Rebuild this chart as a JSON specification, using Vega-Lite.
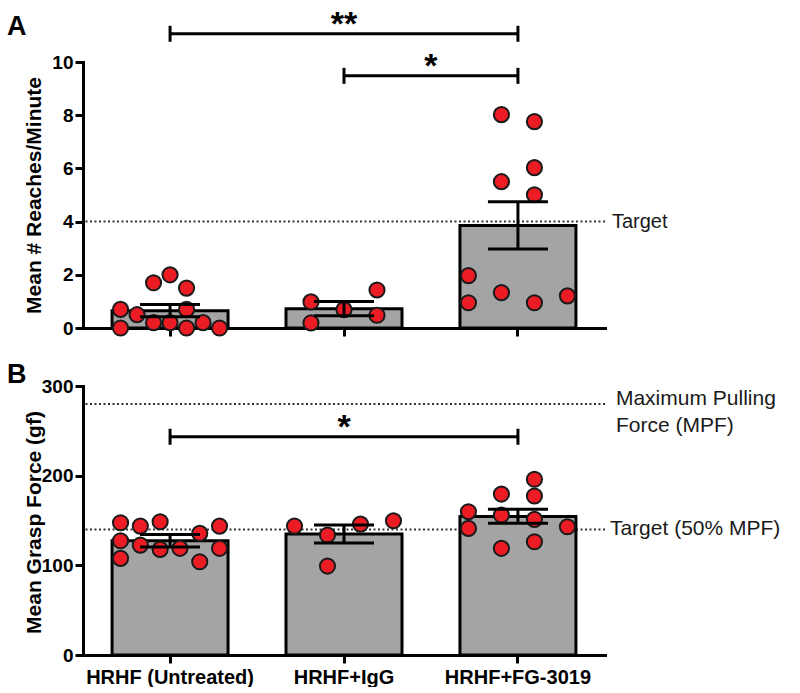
{
  "$schema": "https://vega.github.io/schema/vega-lite/v6.json",
  "padding": {"left": 7, "top": 7, "right": 0, "bottom": 0},
  "spacing": 21,
  "config": {
    "view": {"stroke": null},
    "font": "Liberation Sans",
    "tick": {"opacity": 1},
    "axis": {
      "domainColor": "black", "domainWidth": 3, "domainCap": "square",
      "tickColor": "black", "tickWidth": 3, "tickSize": 8,
      "labelColor": "black", "labelFont": "Liberation Sans", "labelFontWeight": "bold", "labelFontSize": 19, "labelPadding": 2,
      "titleColor": "black", "titleFont": "Liberation Sans", "titleFontWeight": "bold", "titleFontSize": 21,
      "grid": false
    }
  },
  "datasets": {
    "reachBars": [
      {"group": "HRHF (Untreated)", "mean": 0.65, "lo": 0.42, "hi": 0.88},
      {"group": "HRHF+IgG", "mean": 0.72, "lo": 0.46, "hi": 1.0},
      {"group": "HRHF+FG-3019", "mean": 3.85, "lo": 2.97, "hi": 4.75}
    ],
    "reachDots": [
      {"group": "HRHF (Untreated)", "col": -3, "value": 0.7},
      {"group": "HRHF (Untreated)", "col": -3, "value": 0},
      {"group": "HRHF (Untreated)", "col": -2, "value": 0.5},
      {"group": "HRHF (Untreated)", "col": -1, "value": 1.7},
      {"group": "HRHF (Untreated)", "col": -1, "value": 0.2},
      {"group": "HRHF (Untreated)", "col": 0, "value": 2.0},
      {"group": "HRHF (Untreated)", "col": 0, "value": 0.2},
      {"group": "HRHF (Untreated)", "col": 1, "value": 1.5},
      {"group": "HRHF (Untreated)", "col": 1, "value": 0.7},
      {"group": "HRHF (Untreated)", "col": 1, "value": 0},
      {"group": "HRHF (Untreated)", "col": 2, "value": 0.2},
      {"group": "HRHF (Untreated)", "col": 3, "value": 0},
      {"group": "HRHF+IgG", "col": -2, "value": 0.98},
      {"group": "HRHF+IgG", "col": -2, "value": 0.19},
      {"group": "HRHF+IgG", "col": 0, "value": 0.69},
      {"group": "HRHF+IgG", "col": 2, "value": 1.43},
      {"group": "HRHF+IgG", "col": 2, "value": 0.48},
      {"group": "HRHF+FG-3019", "col": -1, "value": 8.02},
      {"group": "HRHF+FG-3019", "col": 1, "value": 7.76},
      {"group": "HRHF+FG-3019", "col": 1, "value": 6.03},
      {"group": "HRHF+FG-3019", "col": -1, "value": 5.5},
      {"group": "HRHF+FG-3019", "col": 1, "value": 5.01},
      {"group": "HRHF+FG-3019", "col": -3, "value": 1.97},
      {"group": "HRHF+FG-3019", "col": -3, "value": 0.95},
      {"group": "HRHF+FG-3019", "col": -1, "value": 1.33},
      {"group": "HRHF+FG-3019", "col": 1, "value": 0.95},
      {"group": "HRHF+FG-3019", "col": 3, "value": 1.21}
    ],
    "graspBars": [
      {"group": "HRHF (Untreated)", "mean": 127.5, "lo": 120.5, "hi": 134.5},
      {"group": "HRHF+IgG", "mean": 135, "lo": 125, "hi": 145},
      {"group": "HRHF+FG-3019", "mean": 154.5, "lo": 147, "hi": 162.5}
    ],
    "graspDots": [
      {"group": "HRHF (Untreated)", "col": -3, "value": 147.5},
      {"group": "HRHF (Untreated)", "col": -1.8, "value": 143.8},
      {"group": "HRHF (Untreated)", "col": -0.6, "value": 148.6},
      {"group": "HRHF (Untreated)", "col": 1.8, "value": 135.7},
      {"group": "HRHF (Untreated)", "col": 3, "value": 143.8},
      {"group": "HRHF (Untreated)", "col": -3, "value": 127.4},
      {"group": "HRHF (Untreated)", "col": -1.8, "value": 122.6},
      {"group": "HRHF (Untreated)", "col": -0.6, "value": 117.8},
      {"group": "HRHF (Untreated)", "col": 0.6, "value": 119},
      {"group": "HRHF (Untreated)", "col": 3, "value": 119},
      {"group": "HRHF (Untreated)", "col": -3, "value": 107.8},
      {"group": "HRHF (Untreated)", "col": 1.8, "value": 104},
      {"group": "HRHF+IgG", "col": -3, "value": 143.8},
      {"group": "HRHF+IgG", "col": -1, "value": 133.8},
      {"group": "HRHF+IgG", "col": 1, "value": 146},
      {"group": "HRHF+IgG", "col": 3, "value": 149.7},
      {"group": "HRHF+IgG", "col": -1, "value": 99.2},
      {"group": "HRHF+FG-3019", "col": 1, "value": 196},
      {"group": "HRHF+FG-3019", "col": -1, "value": 179.5},
      {"group": "HRHF+FG-3019", "col": 1, "value": 177.3},
      {"group": "HRHF+FG-3019", "col": -3, "value": 159.8},
      {"group": "HRHF+FG-3019", "col": -1, "value": 156.1},
      {"group": "HRHF+FG-3019", "col": 1, "value": 151.3},
      {"group": "HRHF+FG-3019", "col": -3, "value": 141.2},
      {"group": "HRHF+FG-3019", "col": 3, "value": 143},
      {"group": "HRHF+FG-3019", "col": -1, "value": 119},
      {"group": "HRHF+FG-3019", "col": 1, "value": 126.3}
    ],
    "refsA": [{"value": 4, "label": "Target"}],
    "refsB": [
      {"value": 280, "label": ["Maximum Pulling", "Force (MPF)"]},
      {"value": 140, "label": "Target (50% MPF)"}
    ],
    "sigA": [
      {"from": "HRHF (Untreated)", "to": "HRHF+FG-3019", "level": 11.06, "label": "**"},
      {"from": "HRHF+IgG", "to": "HRHF+FG-3019", "level": 9.48, "label": "*"}
    ],
    "sigB": [
      {"from": "HRHF (Untreated)", "to": "HRHF+FG-3019", "level": 243.4, "label": "*"}
    ],
    "panels": [{"panel": "A"}, {"panel": "B"}]
  },
  "vconcat": [
    {
      "width": 522,
      "height": 266,
      "layer": [
        {
          "data": {"name": "refsA"},
          "mark": {"type": "rule", "strokeDash": [2, 2.5], "strokeWidth": 2, "color": "#333333"},
          "encoding": {
            "y": {"field": "value", "type": "quantitative", "scale": {"domain": [0, 10], "nice": false},
                  "axis": {"title": "Mean # Reaches/Minute", "values": [0, 2, 4, 6, 8, 10], "titleX": -49, "titleY": 133, "titleBaseline": "middle"}}
          }
        },
        {
          "data": {"name": "reachBars"},
          "mark": {"type": "bar", "fill": "#a4a4a4", "stroke": "black", "strokeWidth": 3, "width": 116},
          "encoding": {
            "x": {"field": "group", "type": "nominal",
                  "scale": {"type": "band", "domain": ["HRHF (Untreated)", "HRHF+IgG", "HRHF+FG-3019"], "paddingInner": 0.333, "paddingOuter": 0.167},
                  "axis": {"title": null, "labels": false}},
            "y": {"field": "mean", "type": "quantitative"}
          }
        },
        {
          "data": {"name": "reachDots"},
          "mark": {"type": "point", "shape": "circle", "filled": true, "fill": "#ec1c24", "stroke": "#1a1a1a", "strokeWidth": 2, "size": 230, "opacity": 1},
          "encoding": {
            "x": {"field": "group", "type": "nominal"},
            "xOffset": {"field": "col", "type": "quantitative", "scale": {"domain": [-3, 3], "range": [8.5, 107.5]}},
            "y": {"field": "value", "type": "quantitative"}
          }
        },
        {
          "data": {"name": "reachBars"},
          "mark": {"type": "rule", "color": "black", "strokeWidth": 3},
          "encoding": {
            "x": {"field": "group", "type": "nominal"},
            "y": {"field": "lo", "type": "quantitative"},
            "y2": {"field": "hi"}
          }
        },
        {
          "data": {"name": "reachBars"},
          "mark": {"type": "tick", "orient": "horizontal", "color": "black", "size": 60, "thickness": 3, "opacity": 1},
          "encoding": {
            "x": {"field": "group", "type": "nominal"},
            "y": {"field": "hi", "type": "quantitative"}
          }
        },
        {
          "data": {"name": "reachBars"},
          "mark": {"type": "tick", "orient": "horizontal", "color": "black", "size": 60, "thickness": 3, "opacity": 1},
          "encoding": {
            "x": {"field": "group", "type": "nominal"},
            "y": {"field": "lo", "type": "quantitative"}
          }
        },
        {
          "data": {"name": "sigA"},
          "mark": {"type": "rule", "color": "black", "strokeWidth": 3},
          "encoding": {
            "x": {"field": "from", "type": "nominal"},
            "x2": {"field": "to"},
            "y": {"field": "level", "type": "quantitative"}
          }
        },
        {
          "data": {"name": "sigA"},
          "mark": {"type": "tick", "orient": "vertical", "color": "black", "size": 16, "thickness": 3, "opacity": 1},
          "encoding": {
            "x": {"field": "from", "type": "nominal"},
            "y": {"field": "level", "type": "quantitative"}
          }
        },
        {
          "data": {"name": "sigA"},
          "mark": {"type": "tick", "orient": "vertical", "color": "black", "size": 16, "thickness": 3, "opacity": 1},
          "encoding": {
            "x": {"field": "to", "type": "nominal"},
            "y": {"field": "level", "type": "quantitative"}
          }
        },
        {
          "data": {"name": "sigA"},
          "transform": [{"filter": "datum.label === '**'"}],
          "mark": {"type": "text", "fontSize": 34, "fontWeight": "bold", "align": "center", "baseline": "alphabetic", "dy": 1, "color": "black"},
          "encoding": {
            "x": {"datum": "HRHF+IgG"},
            "y": {"field": "level", "type": "quantitative"},
            "text": {"field": "label"}
          }
        },
        {
          "data": {"name": "sigA"},
          "transform": [{"filter": "datum.label === '*'"}],
          "mark": {"type": "text", "fontSize": 34, "fontWeight": "bold", "align": "center", "baseline": "alphabetic", "dy": 1, "dx": -87, "color": "black"},
          "encoding": {
            "x": {"datum": "HRHF+FG-3019"},
            "y": {"field": "level", "type": "quantitative"},
            "text": {"field": "label"}
          }
        },
        {
          "data": {"name": "refsA"},
          "mark": {"type": "text", "fontSize": 20, "align": "left", "baseline": "middle", "dx": 94, "color": "#1a1a1a"},
          "encoding": {
            "x": {"datum": "HRHF+FG-3019"},
            "y": {"field": "value", "type": "quantitative"},
            "text": {"field": "label"}
          }
        },
        {
          "data": {"name": "panels"},
          "transform": [{"filter": "datum.panel === 'A'"}],
          "mark": {"type": "text", "fontSize": 27, "fontWeight": "bold", "align": "left", "baseline": "middle", "dx": -163, "color": "black"},
          "encoding": {
            "x": {"datum": "HRHF (Untreated)"},
            "y": {"datum": 11.3},
            "text": {"field": "panel"}
          }
        }
      ]
    },
    {
      "width": 522,
      "height": 269,
      "layer": [
        {
          "data": {"name": "refsB"},
          "mark": {"type": "rule", "strokeDash": [2, 2.5], "strokeWidth": 2, "color": "#333333"},
          "encoding": {
            "y": {"field": "value", "type": "quantitative", "scale": {"domain": [0, 300], "nice": false},
                  "axis": {"title": "Mean Grasp Force (gf)", "values": [0, 100, 200, 300], "titleX": -49, "titleY": 136, "titleBaseline": "middle"}}
          }
        },
        {
          "data": {"name": "graspBars"},
          "mark": {"type": "bar", "fill": "#a4a4a4", "stroke": "black", "strokeWidth": 3, "width": 116},
          "encoding": {
            "x": {"field": "group", "type": "nominal",
                  "scale": {"type": "band", "domain": ["HRHF (Untreated)", "HRHF+IgG", "HRHF+FG-3019"], "paddingInner": 0.333, "paddingOuter": 0.167},
                  "axis": {"title": null, "labelAngle": 0, "labelFontSize": 20, "labelPadding": 4}},
            "y": {"field": "mean", "type": "quantitative"}
          }
        },
        {
          "data": {"name": "graspDots"},
          "mark": {"type": "point", "shape": "circle", "filled": true, "fill": "#ec1c24", "stroke": "#1a1a1a", "strokeWidth": 2, "size": 230, "opacity": 1},
          "encoding": {
            "x": {"field": "group", "type": "nominal"},
            "xOffset": {"field": "col", "type": "quantitative", "scale": {"domain": [-3, 3], "range": [8.5, 107.5]}},
            "y": {"field": "value", "type": "quantitative"}
          }
        },
        {
          "data": {"name": "graspBars"},
          "mark": {"type": "rule", "color": "black", "strokeWidth": 3},
          "encoding": {
            "x": {"field": "group", "type": "nominal"},
            "y": {"field": "lo", "type": "quantitative"},
            "y2": {"field": "hi"}
          }
        },
        {
          "data": {"name": "graspBars"},
          "mark": {"type": "tick", "orient": "horizontal", "color": "black", "size": 60, "thickness": 3, "opacity": 1},
          "encoding": {
            "x": {"field": "group", "type": "nominal"},
            "y": {"field": "hi", "type": "quantitative"}
          }
        },
        {
          "data": {"name": "graspBars"},
          "mark": {"type": "tick", "orient": "horizontal", "color": "black", "size": 60, "thickness": 3, "opacity": 1},
          "encoding": {
            "x": {"field": "group", "type": "nominal"},
            "y": {"field": "lo", "type": "quantitative"}
          }
        },
        {
          "data": {"name": "sigB"},
          "mark": {"type": "rule", "color": "black", "strokeWidth": 3},
          "encoding": {
            "x": {"field": "from", "type": "nominal"},
            "x2": {"field": "to"},
            "y": {"field": "level", "type": "quantitative"}
          }
        },
        {
          "data": {"name": "sigB"},
          "mark": {"type": "tick", "orient": "vertical", "color": "black", "size": 16, "thickness": 3, "opacity": 1},
          "encoding": {
            "x": {"field": "from", "type": "nominal"},
            "y": {"field": "level", "type": "quantitative"}
          }
        },
        {
          "data": {"name": "sigB"},
          "mark": {"type": "tick", "orient": "vertical", "color": "black", "size": 16, "thickness": 3, "opacity": 1},
          "encoding": {
            "x": {"field": "to", "type": "nominal"},
            "y": {"field": "level", "type": "quantitative"}
          }
        },
        {
          "data": {"name": "sigB"},
          "mark": {"type": "text", "fontSize": 34, "fontWeight": "bold", "align": "center", "baseline": "alphabetic", "dy": 1, "color": "black"},
          "encoding": {
            "x": {"datum": "HRHF+IgG"},
            "y": {"field": "level", "type": "quantitative"},
            "text": {"field": "label"}
          }
        },
        {
          "data": {"name": "refsB"},
          "transform": [{"filter": "datum.value === 280"}],
          "mark": {"type": "text", "fontSize": 21, "align": "left", "baseline": "alphabetic", "dy": 1, "lineHeight": 27, "dx": 98, "color": "#1a1a1a"},
          "encoding": {
            "x": {"datum": "HRHF+FG-3019"},
            "y": {"field": "value", "type": "quantitative"},
            "text": {"field": "label"}
          }
        },
        {
          "data": {"name": "refsB"},
          "transform": [{"filter": "datum.value === 140"}],
          "mark": {"type": "text", "fontSize": 21, "align": "left", "baseline": "middle", "dx": 92, "color": "#1a1a1a"},
          "encoding": {
            "x": {"datum": "HRHF+FG-3019"},
            "y": {"field": "value", "type": "quantitative"},
            "text": {"field": "label"}
          }
        },
        {
          "data": {"name": "panels"},
          "transform": [{"filter": "datum.panel === 'B'"}],
          "mark": {"type": "text", "fontSize": 27, "fontWeight": "bold", "align": "left", "baseline": "middle", "dx": -163, "color": "black"},
          "encoding": {
            "x": {"datum": "HRHF (Untreated)"},
            "y": {"datum": 312},
            "text": {"field": "panel"}
          }
        }
      ]
    }
  ]
}
